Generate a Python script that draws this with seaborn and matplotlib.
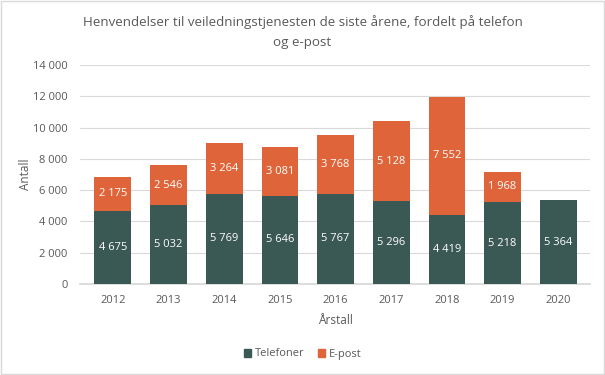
import matplotlib
matplotlib.use("Agg")
import matplotlib.pyplot as plt
import seaborn as sns
import numpy as np
import pandas as pd
from matplotlib.patches import Patch

years = ["2012", "2013", "2014", "2015", "2016", "2017", "2018", "2019", "2020"]
telefoner = [4675, 5032, 5769, 5646, 5767, 5296, 4419, 5218, 5364]
epost = [2175, 2546, 3264, 3081, 3768, 5128, 7552, 1968, 0]

TEAL = "#3A5854"
ORANGE = "#DF6439"
GRID = "#D9D9D9"
TEXT = "#595959"

sns.set_theme(style="white")
plt.rcParams['font.family'] = ['Open Sans', 'DejaVu Sans']


def fmt(v):
    return f"{v:,}".replace(",", " ")


df = pd.DataFrame({"year": years, "tel": telefoner, "epost": epost})

fig = plt.figure(figsize=(6.05, 3.75), dpi=100)
# plot area: x 80..590 px, y 65..284 px
ax = fig.add_axes([80 / 605, (375 - 284) / 375, 510 / 605, 219 / 375])

sns.barplot(data=df, x="year", y="tel", color=TEAL, width=0.66,
            saturation=1, linewidth=0, ax=ax, zorder=3)
sns.barplot(data=df, x="year", y="epost", color=ORANGE, width=0.66,
            saturation=1, linewidth=0, bottom=df["tel"], ax=ax, zorder=3)

tel_bars = ax.containers[0]
ep_bars = ax.containers[1]
ax.bar_label(tel_bars, labels=[fmt(v) for v in telefoner], label_type="center",
             color="white", fontsize=8)
ax.bar_label(ep_bars, labels=[fmt(v) if v > 0 else "" for v in epost],
             label_type="center", color="white", fontsize=8)

ax.set_ylim(0, 14000)
ax.set_yticks(range(0, 14001, 2000))
ax.set_yticklabels([fmt(v) for v in range(0, 14001, 2000)])
ax.set_xlim(-0.59, 8.57)
ax.yaxis.grid(True, color=GRID, linewidth=0.8, zorder=0)
ax.set_axisbelow(True)
for s in ["top", "right", "left"]:
    ax.spines[s].set_visible(False)
ax.spines["bottom"].set_color(GRID)
ax.tick_params(axis="both", length=0, labelsize=8, colors=TEXT)
ax.tick_params(axis="x", pad=8)
ax.tick_params(axis="y", pad=9)

ax.set_xlabel("Årstall", fontsize=8.5, color=TEXT, labelpad=5.5)
ax.set_ylabel("Antall", fontsize=8.5, color=TEXT)
ax.yaxis.set_label_coords(-0.094, 0.5)

fig.text(0.5, 1 - 15 / 375,
         "Henvendelser til veiledningstjenesten de siste årene, fordelt på telefon\nog e-post",
         ha="center", va="top", fontsize=9.6, color=TEXT, linespacing=1.67)

handles = [Patch(color=TEAL, label="Telefoner"), Patch(color=ORANGE, label="E-post")]
fig.legend(handles=handles, loc="center", bbox_to_anchor=(0.5, 1 - 354 / 375), ncol=2,
           frameon=False, fontsize=8, handlelength=0.7, handleheight=0.7,
           handletextpad=0.3, columnspacing=1.2, labelcolor=TEXT)

fig.patches.append(plt.Rectangle((0.002, 0.002), 0.996, 0.996, transform=fig.transFigure,
                                 fill=False, edgecolor="#D9D9D9", linewidth=1))

fig.savefig("out.png", dpi=100)
